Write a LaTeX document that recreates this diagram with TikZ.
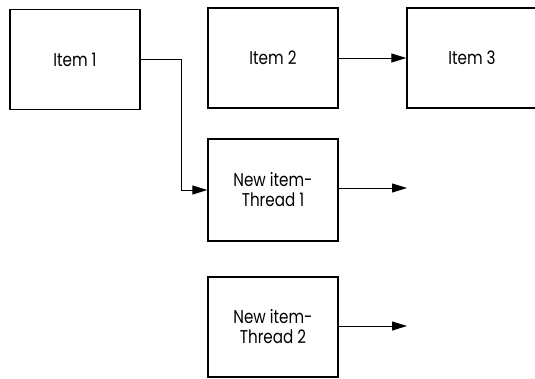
\documentclass[tikz,border=0pt]{standalone}
\usepackage{fontspec}
\setmainfont{Poppins}[FakeStretch=0.82]
\usetikzlibrary{arrows.meta}
\tikzset{
  itembox/.style={draw=black, line width=1.4pt, minimum width=130pt, minimum height=100pt,
    inner sep=0pt, align=center, font=\fontsize{18.5}{20}\selectfont},
  flow/.style={line width=1pt, -{Triangle[length=15pt,width=9pt]}}
}
\begin{document}
\begin{tikzpicture}[x=1pt,y=-1pt]
  \useasboundingbox (0,0) rectangle (535,378);
  % upper row of items
  \node[itembox] (i1) at (75,59.5) {Item 1};
  \node[itembox] (i2) at (273,58) {Item 2};
  \node[itembox] (i3) at (472,58) {Item 3};
  % threads started for new items
  \node[itembox, minimum height=102pt] (t1) at (273,190) {New item-\\Thread 1};
  \node[itembox] (t2) at (273,327) {New item-\\Thread 2};
  % open ends of the thread arrows
  \coordinate (e1) at (407,188);
  \coordinate (e2) at (407,326);
  % connectors
  \draw[flow] (i1.east) -- ++(41,0) |- (t1.west);
  \draw[flow] (i2.east) -- (i3.west);
  \draw[flow] (t1.east |- e1) -- (e1);
  \draw[flow] (t2.east |- e2) -- (e2);
\end{tikzpicture}
\end{document}
